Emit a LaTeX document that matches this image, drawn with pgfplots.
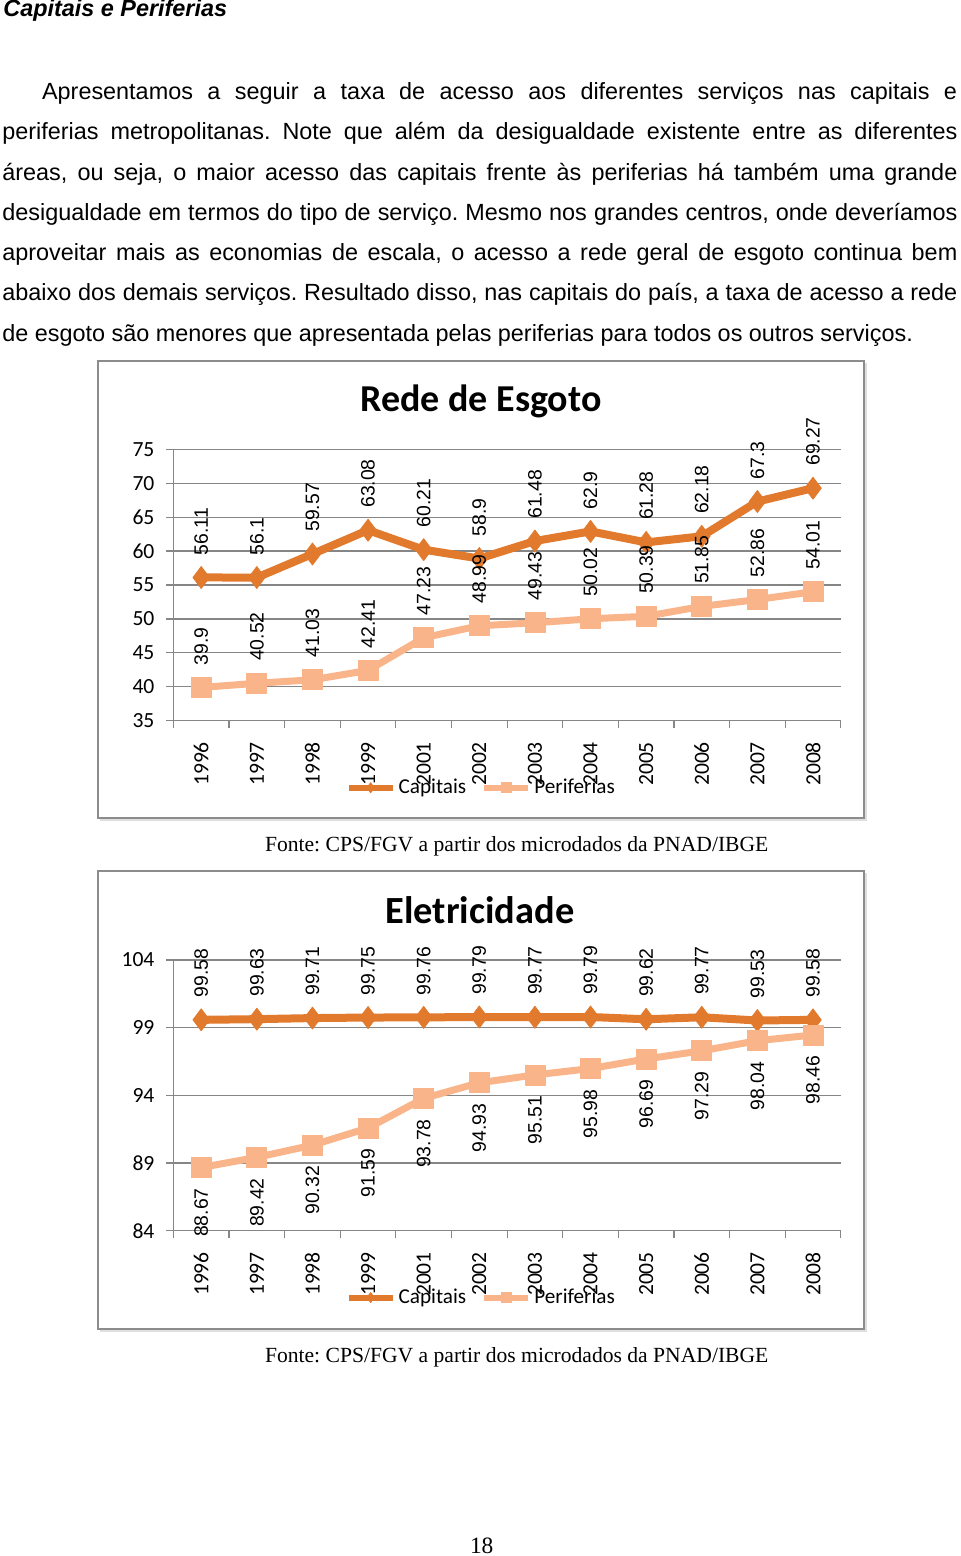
\documentclass[border=0pt]{standalone}
\usepackage{pgfplots}
\pgfplotsset{compat=1.18}
\usepackage{fontspec}
\setmainfont{Liberation Sans}
\newfontfamily\timesf{Liberation Serif}
\newfontfamily\calf{Carlito}
\definecolor{capcol}{RGB}{226,122,46}
\definecolor{pericol}{RGB}{250,180,138}
\definecolor{gridgray}{RGB}{134,134,134}
\definecolor{framegray}{RGB}{140,140,140}

\pgfplotsset{
 pagechart/.style={
  scale only axis, width=333.7pt, clip=false,
  xmin=-0.5, xmax=11.5,
  axis lines*=left,
  axis line style={gridgray, line width=0.6pt},
  tick align=outside, major tick length=3.5pt,
  tick style={gridgray, line width=0.6pt},
  xtick={-0.5,0.5,...,11.5}, xticklabels={},
  extra x ticks={0,1,2,3,4,5,6,7,8,9,10,11},
  extra x tick labels={1996,1997,1998,1999,2001,2002,2003,2004,2005,2006,2007,2008},
  extra x tick style={major tick length=0pt},
  xticklabel style={yshift=-10.5pt, rotate=90, anchor=east, inner sep=0pt},
  ymajorgrids, grid style={gridgray, line width=0.6pt},
  yticklabel style={anchor=east, inner sep=0pt, xshift=-5.8pt},
  tick label style={font=\calf\fontsize{10.8}{12}\selectfont},
  /pgf/number format/assume math mode=true,
  legend style={at={(0.2575,-0.247)}, anchor=west, draw=none, fill=none,
    legend columns=2, font=\calf\fontsize{10.6}{12}\selectfont,
    inner sep=0pt, nodes={inner sep=1.5pt},
    /tikz/every even column/.append style={column sep=6pt}},
  legend image code/.code={\draw[line width=3pt, mark size=2.5pt, mark repeat=2, mark phase=2] plot coordinates {(0pt,0pt) (11pt,0pt) (22pt,0pt)};},
 },
 capstyle/.style={color=capcol, line width=4pt, mark=diamond*, mark size=5.5pt, line join=round, mark options={solid, line width=0.4pt}},
 peristyle/.style={color=pericol, line width=3.5pt, mark=square*, mark size=5pt, line join=round, mark options={solid, line width=0.4pt}},
 labup/.style={nodes near coords, every node near coord/.append style={yshift=11pt, rotate=90, anchor=west, inner sep=0pt, text=black, font=\fontsize{9.7}{10}\selectfont}},
 labdown/.style={nodes near coords, every node near coord/.append style={yshift=-10.25pt, rotate=90, anchor=east, inner sep=0pt, text=black, font=\fontsize{9.7}{10}\selectfont}},
}

\begin{document}
\frenchspacing
\begin{tikzpicture}
\path[use as bounding box, fill=white] (0,0) rectangle (480pt,-778pt);

% heading and body text
\node[anchor=base west, inner sep=0pt] at (1.5pt,-8.5pt) {\fontsize{11.7}{14}\selectfont\bfseries\itshape Capitais e Periferias};
\begin{scope}[every node/.style={anchor=base west, inner sep=0pt, font=\fontsize{11.7}{14}\selectfont}]
\node at (20.85pt,-49.75pt) {\makebox[457.5pt][s]{Apresentamos a seguir a taxa de acesso aos diferentes serviços nas capitais e}};
\node at (1pt,-69.9pt) {\makebox[477.5pt][s]{periferias metropolitanas. Note que além da desigualdade existente entre as diferentes}};
\node at (1pt,-90.05pt) {\makebox[477.5pt][s]{áreas, ou seja, o maior acesso das capitais frente às periferias há também uma grande}};
\node at (1pt,-110.2pt) {\makebox[477.5pt][s]{desigualdade em termos do tipo de serviço. Mesmo nos grandes centros, onde deveríamos}};
\node at (1pt,-130.35pt) {\makebox[477.5pt][s]{aproveitar mais as economias de escala, o acesso a rede geral de esgoto continua bem}};
\node at (1pt,-150.5pt) {\makebox[477.5pt][s]{abaixo dos demais serviços. Resultado disso, nas capitais do país, a taxa de acesso a rede}};
\node at (1pt,-170.65pt) {de esgoto são menores que apresentada pelas periferias para todos os outros serviços.};
\end{scope}

% frames
\draw[gray!25, line width=1pt] (50pt,-410pt) -- (433pt,-410pt) -- (433pt,-181.5pt);
\draw[framegray, line width=1pt] (49pt,-180.5pt) rectangle (432pt,-409pt);
\draw[gray!25, line width=1pt] (50pt,-665.5pt) -- (433pt,-665.5pt) -- (433pt,-436.5pt);
\draw[framegray, line width=1pt] (49pt,-435.5pt) rectangle (432pt,-664.5pt);

% chart titles
\node[anchor=base, inner sep=0pt] at (240.5pt,-205.5pt) {\calf\bfseries\fontsize{19}{22}\selectfont Rede de Esgoto};
\node[anchor=base, inner sep=0pt] at (240pt,-461.65pt) {\calf\bfseries\fontsize{19.2}{22}\selectfont Eletricidade};

% chart 1
\begin{axis}[pagechart, at={(86.7pt,-360.35pt)}, anchor=south west,
  height=135.7pt, ymin=35, ymax=75, ytick={35,40,...,75}]
\addplot[capstyle, labup] coordinates {(0,56.11) (1,56.1) (2,59.57) (3,63.08) (4,60.21) (5,58.9) (6,61.48) (7,62.9) (8,61.28) (9,62.18) (10,67.3) (11,69.27)};
\addlegendentry{Capitais}
\addplot[peristyle, labup] coordinates {(0,39.9) (1,40.52) (2,41.03) (3,42.41) (4,47.23) (5,48.99) (6,49.43) (7,50.02) (8,50.39) (9,51.85) (10,52.86) (11,54.01)};
\addlegendentry{Periferias}
\end{axis}

% chart 2
\begin{axis}[pagechart, at={(86.7pt,-615.35pt)}, anchor=south west,
  height=135.35pt, ymin=84, ymax=104, ytick={84,89,...,104}]
\addplot[capstyle, labup] coordinates {(0,99.58) (1,99.63) (2,99.71) (3,99.75) (4,99.76) (5,99.79) (6,99.77) (7,99.79) (8,99.62) (9,99.77) (10,99.53) (11,99.58)};
\addlegendentry{Capitais}
\addplot[peristyle, labdown] coordinates {(0,88.67) (1,89.42) (2,90.32) (3,91.59) (4,93.78) (5,94.93) (6,95.51) (7,95.98) (8,96.69) (9,97.29) (10,98.04) (11,98.46)};
\addlegendentry{Periferias}
\end{axis}

% captions and page number
\node[anchor=base, inner sep=0pt] at (258.35pt,-425.85pt) {\timesf\fontsize{10.8}{13}\selectfont Fonte: CPS/FGV a partir dos microdados da PNAD/IBGE};
\node[anchor=base, inner sep=0pt] at (258.35pt,-681.35pt) {\timesf\fontsize{10.8}{13}\selectfont Fonte: CPS/FGV a partir dos microdados da PNAD/IBGE};
\node[anchor=base, inner sep=0pt] at (240.85pt,-776.5pt) {\timesf\fontsize{11.7}{14}\selectfont 18};
\end{tikzpicture}
\end{document}
